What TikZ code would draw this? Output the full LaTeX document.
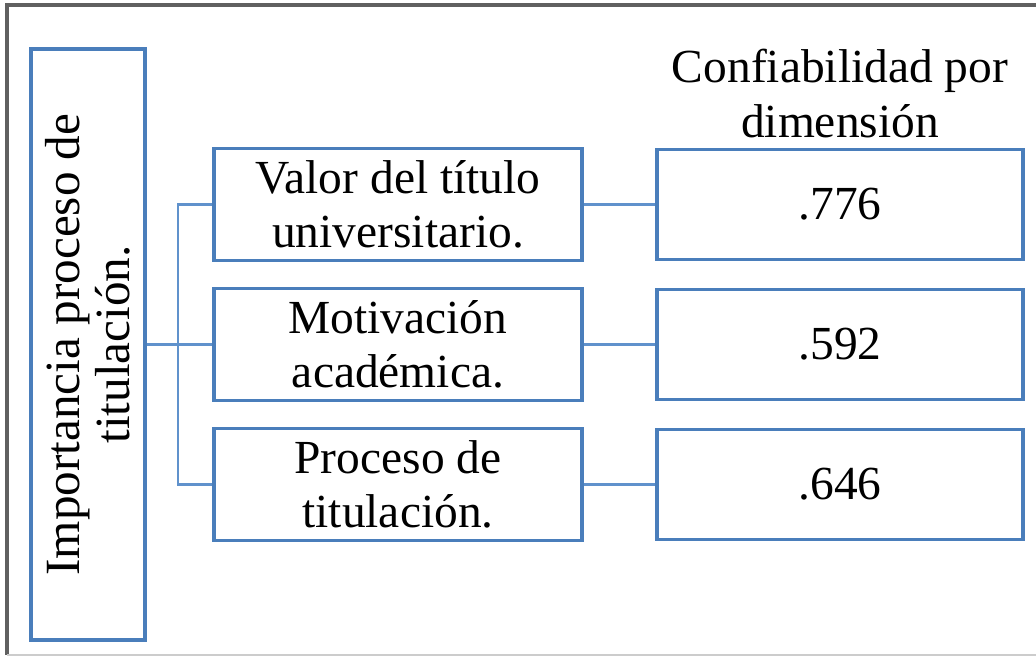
\documentclass[tikz,border=0pt]{standalone}
\usepackage{fontspec}
\setmainfont{Liberation Serif}
\usepackage{xcolor}
\usetikzlibrary{positioning}
\definecolor{boxblue}{RGB}{74,126,187}
\definecolor{lineblue}{RGB}{96,146,204}

\begin{document}
\begin{tikzpicture}[node distance=2cm,on grid,
    dim/.style={draw=boxblue,line width=2.1pt,align=center,minimum width=7.36cm,minimum height=2.24cm,
        font=\fontsize{27}{31}\selectfont},
    rel/.style={dim,minimum width=7.32cm,minimum height=2.2cm},
    link/.style={draw=lineblue,line width=1.2pt}]

\useasboundingbox (0,0) rectangle (20.72,-13.14);
\draw[gray!75!black,line width=2pt] (0.14,-13.1) -- (0.14,-0.1) -- (20.72,-0.1);
\draw[gray!40,line width=1pt] (0.14,-13.1) -- (20.72,-13.1);

\node[draw=boxblue,line width=2.1pt,rotate=90,align=center,minimum width=11.82cm,minimum height=2.28cm,
    font=\fontsize{28}{28.5}\selectfont] (imp) at (1.76,-6.89) {Importancia proceso de\\titulación.};
\node[dim] (m2)[right=6.2cm of imp]	 {Motivación\\académica.};
\node[dim] (m1)[above=2.8cm of m2]	 {Valor del título\\universitario.};
\node[dim] (m3)[below=2.8cm of m2]	 {Proceso de\\titulación.};
\node[rel] (c1)[right=8.84cm of m1]	 {.776};
\node[rel] (c2)[right=8.84cm of m2]	 {.592};
\node[rel] (c3)[right=8.84cm of m3]	 {.646};
\node[align=center,font=\fontsize{27}{31}\selectfont] (head)[above=2.22cm of c1] {Confiabilidad por\\dimensión};
\coordinate (br) at ([xshift=1.8cm]imp.center);

\path[link]
    (imp)	edge (m2)
    (m1)	edge (c1)
    (m2)	edge (c2)
    (m3)	edge (c3);
\draw[link] (m1.west) -| (br) |- (m3.west);
\end{tikzpicture}
\end{document}
